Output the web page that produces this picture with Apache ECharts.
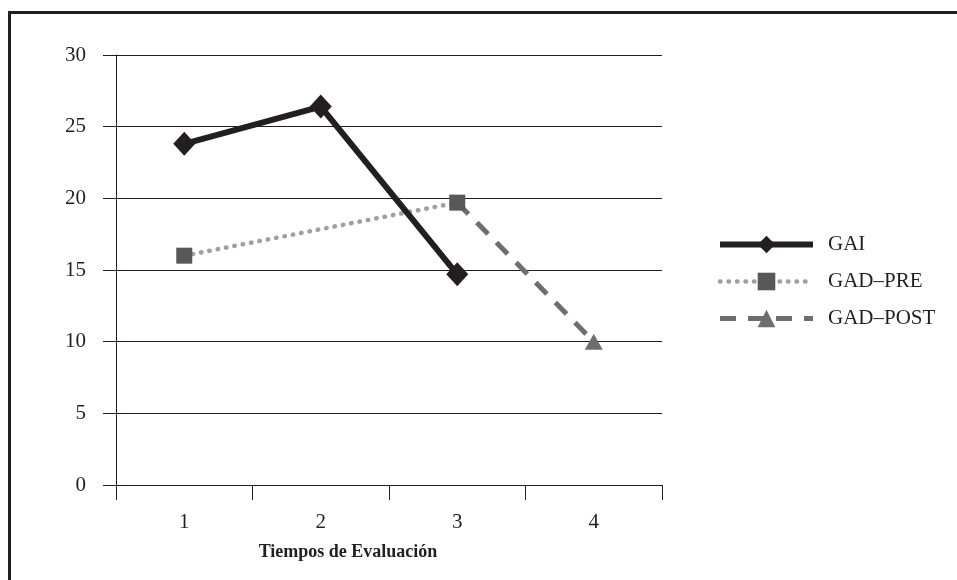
<!DOCTYPE html>
<html>
<head>
<meta charset="utf-8">
<script src="https://cdn.jsdelivr.net/npm/echarts@6/dist/echarts.min.js"></script>
<style>html,body{margin:0;padding:0;background:#fff}#c{width:957px;height:580px}</style>
</head>
<body>
<div id="c"></div>
<script>
var categories = ['1', '2', '3', '4'];
var gai = [23.8, 26.4, 14.7, null];
var gadPre = [16.0, null, 19.7, null];
var gadPost = [null, null, 19.7, 10.0];
var yTicks = [0, 5, 10, 15, 20, 25, 30];

var chart = echarts.init(document.getElementById('c'));
var font = 'Liberation Serif';
chart.setOption({
  animation: false,
  backgroundColor: '#fff',
  graphic: [{
    type: 'rect', left: 7, top: 10, z: 100,
    shape: { width: 1000, height: 620 },
    style: { fill: 'none', stroke: '#231f20', lineWidth: 3 }
  }],
  grid: { left: 116, top: 55, right: 295, bottom: 95 },
  legend: {
    orient: 'vertical', left: 712, top: 229,
    itemWidth: 93, itemHeight: 22, itemGap: 16,
    lineStyle: { width: 'inherit' },
    textStyle: { fontFamily: font, fontSize: 21, color: '#231f20', padding: [0, 0, 0, 10] },
    data: ['GAI', 'GAD\u2013PRE', 'GAD\u2013POST']
  },
  xAxis: {
    type: 'category', data: categories, boundaryGap: true,
    axisLine: { lineStyle: { color: '#231f20', width: 1 } },
    axisTick: { show: true, length: 15, lineStyle: { color: '#231f20' } },
    axisLabel: { margin: 27, fontFamily: font, fontSize: 21, color: '#231f20' },
    name: 'Tiempos de Evaluaci\u00f3n', nameLocation: 'middle', nameGap: 58,
    nameTextStyle: { fontFamily: font, fontSize: 18, fontWeight: 'bold', color: '#231f20', padding: [0, 82, 0, 0] }
  },
  yAxis: {
    type: 'value', min: 0, max: 30, interval: 5,
    axisLine: { show: true, lineStyle: { color: '#231f20', width: 1 } },
    axisTick: { show: true, length: 13, lineStyle: { color: '#231f20' } },
    axisLabel: { margin: 30, fontFamily: font, fontSize: 21, color: '#231f20',
      formatter: function (v) { return yTicks.indexOf(v) >= 0 ? String(v) : ''; } },
    splitLine: { show: true, lineStyle: { color: '#231f20', width: 1 } }
  },
  series: [
    {
      name: 'GAD\u2013POST', type: 'line', z: 2,
      data: gadPost.map(function (v, i) { return i === 2 ? { value: v, symbol: 'none' } : v; }),
      symbol: 'triangle', symbolSize: [18, 16], showSymbol: true,
      itemStyle: { color: '#6d6e70' },
      lineStyle: { color: '#6d6e70', width: 5, type: [16, 12] }
    },
    {
      name: 'GAD\u2013PRE', type: 'line', z: 3, connectNulls: true,
      data: gadPre,
      symbol: 'rect', symbolSize: 16,
      itemStyle: { color: '#58585a' },
      lineStyle: { color: '#9d9fa2', width: 4.5, type: [0.5, 8], cap: 'round' }
    },
    {
      name: 'GAI', type: 'line', z: 4,
      data: gai,
      symbol: 'diamond', symbolSize: [22, 24],
      itemStyle: { color: '#231f20' },
      lineStyle: { color: '#231f20', width: 6 }
    }
  ]
});
</script>
</body>
</html>
